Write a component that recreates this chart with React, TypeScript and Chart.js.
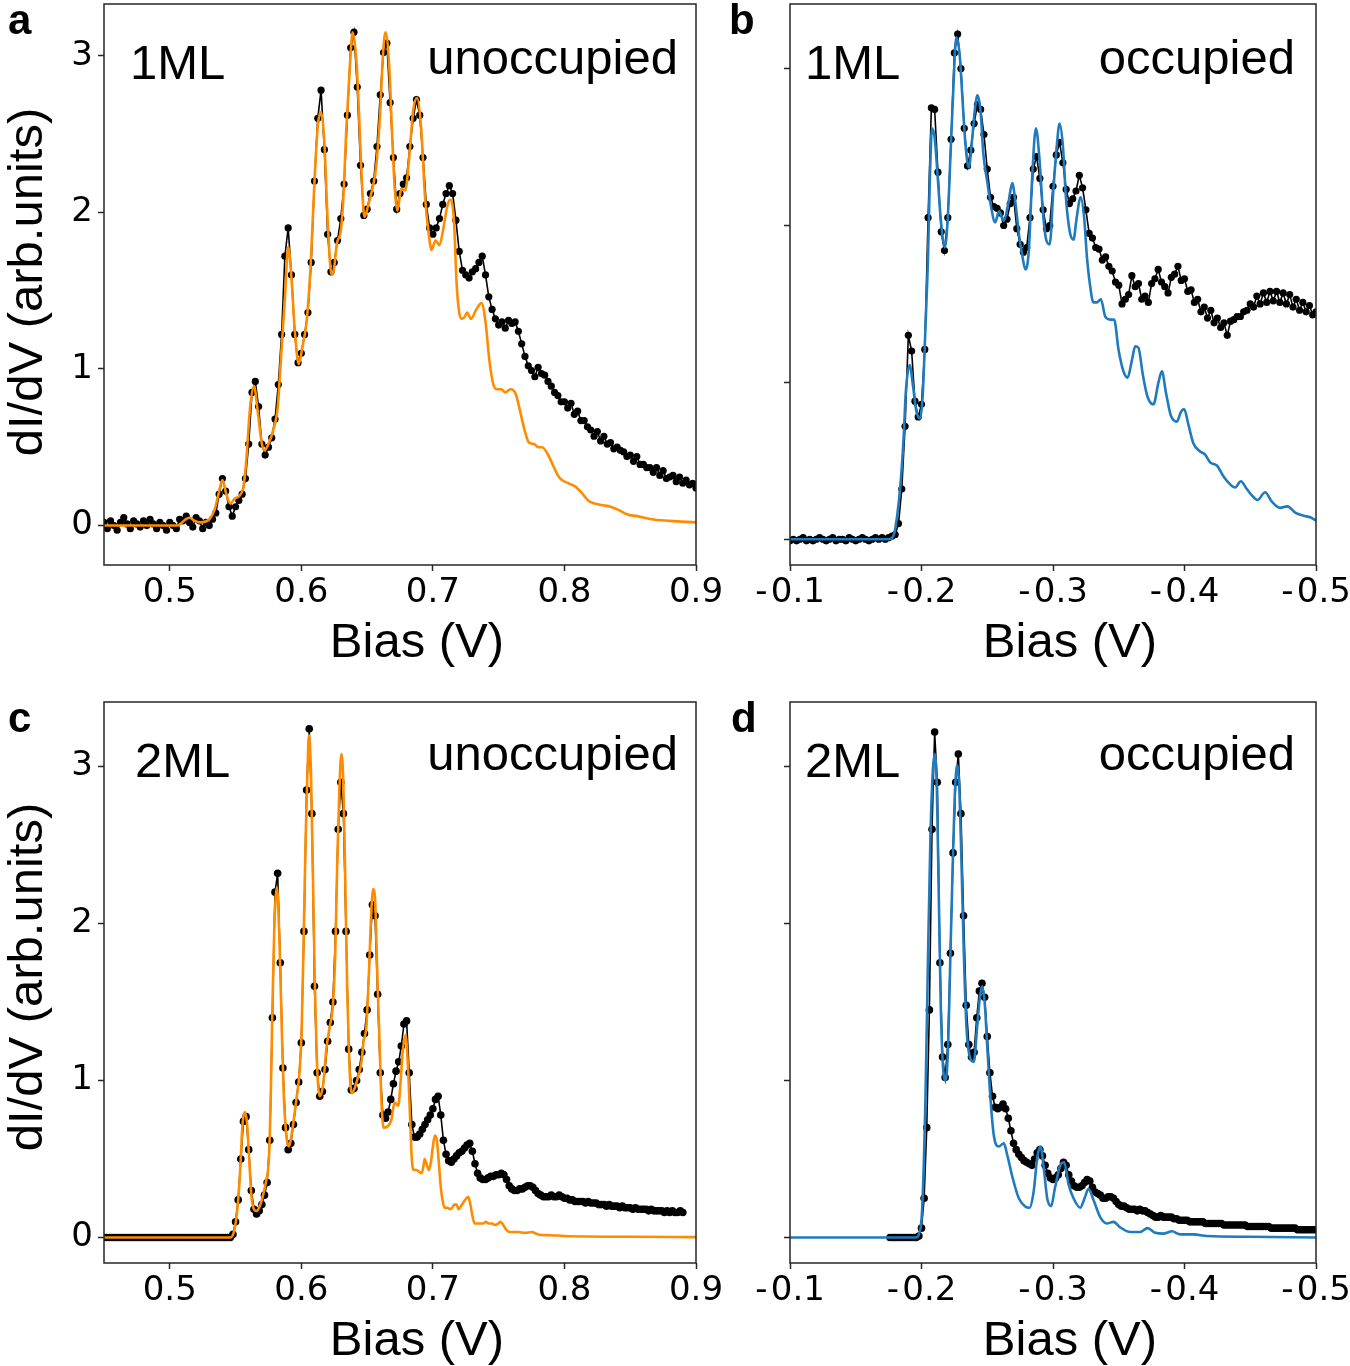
import React, { useEffect, useRef } from "react";
import { Chart, registerables } from "chart.js";

Chart.register(...registerables);

// ---------------- Tick values ----------------
const X_TICKS_UNOCC = [0.5, 0.6, 0.7, 0.8, 0.9];
const X_TICKS_OCC = [-0.1, -0.2, -0.3, -0.4, -0.5];
const Y_TICKS = [0, 1, 2, 3];

// ---------------- Panel a: 1ML unoccupied ----------------
const A_EXP_START = 0.45;
const A_EXP_STEP = 0.0025;
const A_EXP_Y = [
  0.02, -0.02, 0.03, 0.0, -0.03, 0.02, 0.05, 0.01, -0.02, 0.03, // 0.450
  0.01, -0.01, 0.03, 0.0, 0.04, 0.01, -0.02, 0.02, 0.0, -0.03, // 0.475
  0.02, 0.0, -0.02, 0.04, 0.03, 0.06, 0.02, -0.01, 0.05, 0.03, // 0.500
  -0.02, 0.02, 0.0, 0.04, 0.08, 0.2, 0.3, 0.22, 0.12, 0.06, // 0.525
  0.12, 0.16, 0.2, 0.3, 0.52, 0.85, 0.92, 0.76, 0.52, 0.45, // 0.550
  0.5, 0.56, 0.68, 0.9, 1.22, 1.72, 1.9, 1.6, 1.22, 1.04, // 0.575
  1.1, 1.22, 1.36, 1.68, 2.2, 2.6, 2.78, 2.4, 1.86, 1.62, // 0.600
  1.68, 1.82, 1.96, 2.18, 2.62, 3.05, 3.15, 2.8, 2.3, 1.98, // 0.625
  2.02, 2.12, 2.2, 2.42, 2.75, 3.02, 3.08, 2.7, 2.35, 2.02, // 0.650
  2.12, 2.18, 2.22, 2.42, 2.6, 2.72, 2.62, 2.35, 2.05, 1.9, // 0.675
  1.86, 1.9, 1.96, 2.05, 2.12, 2.17, 2.12, 1.95, 1.75, 1.63, // 0.700
  1.6, 1.58, 1.62, 1.64, 1.68, 1.72, 1.6, 1.46, 1.38, 1.32, // 0.725
  1.28, 1.3, 1.26, 1.31, 1.29, 1.3, 1.24, 1.16, 1.08, 1.02, // 0.750
  0.99, 0.95, 1.01, 0.97, 0.96, 0.92, 0.89, 0.85, 0.83, 0.79, // 0.775
  0.79, 0.75, 0.78, 0.71, 0.73, 0.67, 0.67, 0.63, 0.61, 0.57, // 0.800
  0.6, 0.54, 0.57, 0.52, 0.53, 0.49, 0.5, 0.48, 0.47, 0.44, // 0.825
  0.45, 0.41, 0.44, 0.39, 0.39, 0.37, 0.37, 0.34, 0.37, 0.32, // 0.850
  0.35, 0.3, 0.31, 0.32, 0.28, 0.31, 0.27, 0.29, 0.26, 0.27, // 0.875
  0.24, // 0.900
];
const A_THEORY: [number, number][] = [
  [0.45, 0], [0.5, 0], [0.506, 0], [0.512, 0.04], [0.515, 0.05], [0.519, 0.03], [0.523, 0.02], [0.53, 0.04],
  [0.534, 0.1], [0.537, 0.2], [0.54, 0.29], [0.543, 0.2], [0.546, 0.14], [0.549, 0.17], [0.553, 0.19],
  [0.556, 0.25], [0.558, 0.4], [0.561, 0.75], [0.564, 0.89], [0.567, 0.72], [0.57, 0.52], [0.572, 0.48],
  [0.575, 0.52], [0.579, 0.62], [0.582, 0.75], [0.584, 1.0], [0.5875, 1.45], [0.59, 1.78], [0.5925, 1.58],
  [0.595, 1.25], [0.598, 1.03], [0.601, 1.15], [0.604, 1.3], [0.607, 1.65], [0.61, 2.2], [0.6125, 2.55],
  [0.615, 2.64], [0.6175, 2.45], [0.62, 1.95], [0.623, 1.6], [0.625, 1.65], [0.627, 1.8], [0.63, 1.88],
  [0.632, 2.1], [0.634, 2.5], [0.637, 2.95], [0.639, 3.15], [0.642, 2.95], [0.644, 2.6], [0.646, 2.2],
  [0.648, 1.97], [0.651, 2.05], [0.654, 2.15], [0.657, 2.3], [0.66, 2.65], [0.662, 3.0], [0.664, 3.15],
  [0.667, 2.9], [0.669, 2.5], [0.671, 2.15], [0.673, 2.01], [0.676, 2.15], [0.679, 2.14], [0.682, 2.35],
  [0.685, 2.65], [0.688, 2.73], [0.691, 2.55], [0.694, 2.1], [0.697, 1.85], [0.699, 1.76], [0.702, 1.82],
  [0.705, 1.79], [0.708, 1.9], [0.711, 2.04], [0.713, 2.08], [0.716, 1.95], [0.718, 1.55], [0.72, 1.36],
  [0.722, 1.32], [0.724, 1.33], [0.726, 1.36], [0.729, 1.32], [0.733, 1.38], [0.737, 1.42], [0.74, 1.3],
  [0.743, 1.05], [0.746, 0.9], [0.749, 0.87], [0.752, 0.87], [0.755, 0.85], [0.759, 0.87], [0.763, 0.84],
  [0.766, 0.74], [0.77, 0.6], [0.773, 0.53], [0.777, 0.52], [0.78, 0.5], [0.783, 0.5], [0.787, 0.46],
  [0.791, 0.39], [0.795, 0.32], [0.798, 0.29], [0.803, 0.27], [0.808, 0.25], [0.813, 0.21], [0.818, 0.16],
  [0.823, 0.14], [0.829, 0.13], [0.835, 0.12], [0.841, 0.1], [0.848, 0.07], [0.855, 0.06], [0.866, 0.04],
  [0.88, 0.03], [0.9, 0.02],
];

// ---------------- Panel b: 1ML occupied ----------------
const B_EXP_START = -0.1;
const B_EXP_STEP = -0.0025;
const B_EXP_Y = [
  -0.01, 0.0, -0.01, 0.0, 0.01, -0.01, 0.0, -0.01, 0.0, 0.01, // -0.100
  0.0, -0.01, 0.0, 0.01, -0.01, 0.0, 0.0, -0.01, 0.01, 0.0, // -0.125
  -0.01, 0.0, 0.01, 0.0, -0.01, 0.0, 0.01, 0.0, 0.01, 0.0, // -0.150
  0.01, 0.02, 0.03, 0.1, 0.32, 0.72, 1.3, 1.2, 0.88, 0.78, // -0.175
  0.86, 1.21, 2.05, 2.75, 2.74, 2.34, 1.96, 1.84, 2.05, 2.55, // -0.200
  3.1, 3.22, 3.0, 2.62, 2.38, 2.48, 2.65, 2.77, 2.74, 2.58, // -0.225
  2.36, 2.18, 2.12, 2.11, 2.08, 2.0, 2.04, 2.14, 2.18, 1.98, // -0.250
  1.88, 1.83, 1.86, 2.05, 2.36, 2.44, 2.3, 2.1, 1.98, 2.0, // -0.275
  2.25, 2.45, 2.53, 2.4, 2.23, 2.14, 2.17, 2.22, 2.32, 2.24, // -0.300
  2.1, 1.95, 1.92, 1.86, 1.85, 1.78, 1.8, 1.74, 1.71, 1.64, // -0.325
  1.62, 1.5, 1.53, 1.56, 1.68, 1.61, 1.63, 1.53, 1.55, 1.51, // -0.350
  1.63, 1.66, 1.72, 1.64, 1.61, 1.57, 1.67, 1.69, 1.74, 1.65, // -0.375
  1.66, 1.58, 1.59, 1.51, 1.53, 1.45, 1.48, 1.41, 1.46, 1.38, // -0.400
  1.41, 1.35, 1.38, 1.3, 1.39, 1.4, 1.42, 1.42, 1.45, 1.46, // -0.425
  1.5, 1.48, 1.55, 1.5, 1.57, 1.51, 1.58, 1.52, 1.58, 1.51, // -0.450
  1.57, 1.5, 1.56, 1.48, 1.53, 1.46, 1.51, 1.45, 1.49, 1.43, // -0.475
  1.45, // -0.500
];
const B_THEORY: [number, number][] = [
  [-0.1, 0], [-0.175, 0], [-0.179, 0.03], [-0.1815, 0.15], [-0.184, 0.35], [-0.1865, 0.66], [-0.188, 0.93],
  [-0.191, 1.11], [-0.1935, 0.98], [-0.196, 0.82], [-0.199, 0.77], [-0.201, 0.93], [-0.203, 1.35],
  [-0.205, 1.81], [-0.2063, 2.28], [-0.208, 2.62], [-0.21, 2.56], [-0.212, 2.35], [-0.2137, 2.14],
  [-0.2157, 1.95], [-0.2177, 1.86], [-0.22, 2.05], [-0.222, 2.44], [-0.224, 2.83], [-0.2264, 3.2],
  [-0.229, 3.09], [-0.231, 2.83], [-0.2335, 2.51], [-0.236, 2.37], [-0.2385, 2.55], [-0.2406, 2.74],
  [-0.2426, 2.83], [-0.245, 2.72], [-0.247, 2.46], [-0.25, 2.28], [-0.2525, 2.14], [-0.256, 2.02],
  [-0.259, 2.09], [-0.2626, 2.03], [-0.266, 2.14], [-0.269, 2.27], [-0.2715, 2.14], [-0.274, 1.95],
  [-0.2766, 1.81], [-0.279, 1.72], [-0.2816, 1.84], [-0.284, 2.28], [-0.287, 2.62], [-0.29, 2.39],
  [-0.2923, 2.09], [-0.2948, 1.91], [-0.2975, 1.88], [-0.3003, 2.23], [-0.3029, 2.51], [-0.305, 2.65],
  [-0.3075, 2.51], [-0.31, 2.16], [-0.313, 1.95], [-0.3156, 1.91], [-0.318, 2.05], [-0.321, 2.18],
  [-0.3237, 2.05], [-0.3257, 1.81], [-0.328, 1.63], [-0.3307, 1.51], [-0.3333, 1.51], [-0.3364, 1.53],
  [-0.3397, 1.42], [-0.3435, 1.4], [-0.3465, 1.4], [-0.3498, 1.21], [-0.3536, 1.07], [-0.3567, 1.03],
  [-0.36, 1.14], [-0.3625, 1.23], [-0.365, 1.22], [-0.3683, 1.05], [-0.3718, 0.91], [-0.3764, 0.86],
  [-0.3802, 1.0], [-0.3828, 1.07], [-0.386, 0.93], [-0.3896, 0.79], [-0.3942, 0.75], [-0.3972, 0.81],
  [-0.3997, 0.83], [-0.403, 0.73], [-0.4068, 0.61], [-0.4119, 0.56], [-0.4157, 0.54], [-0.4195, 0.49],
  [-0.4246, 0.47], [-0.4297, 0.4], [-0.4347, 0.35], [-0.4385, 0.33], [-0.4428, 0.37], [-0.4474, 0.32],
  [-0.4512, 0.28], [-0.4555, 0.25], [-0.4613, 0.3], [-0.4664, 0.24], [-0.4727, 0.2], [-0.4783, 0.21],
  [-0.4842, 0.17], [-0.4905, 0.15], [-0.4956, 0.14], [-0.5, 0.12],
];

// ---------------- Panel c: 2ML unoccupied ----------------
const C_EXP_START = 0.45;
const C_EXP_STEP = 0.002;
const C_EXP_Y = [
  0, 0, 0, 0, 0, 0, 0, 0, 0, 0, // 0.450
  0, 0, 0, 0, 0, 0, 0, 0, 0, 0, // 0.470
  0, 0, 0, 0, 0, 0, 0, 0, 0, 0, // 0.490
  0, 0, 0, 0, 0, 0, 0, 0, 0, 0, // 0.510
  0, 0, 0, 0, 0, 0, 0, 0, 0, 0.02, // 0.530
  0.1, 0.24, 0.5, 0.74, 0.77, 0.56, 0.3, 0.18, 0.15, 0.17, // 0.550
  0.21, 0.27, 0.35, 0.62, 1.4, 2.2, 2.32, 1.75, 1.08, 0.7, // 0.570
  0.56, 0.6, 0.72, 0.86, 0.99, 1.24, 1.95, 2.85, 3.24, 2.7, // 0.590
  1.6, 1.05, 0.9, 0.93, 1.07, 1.25, 1.37, 1.5, 1.95, 2.6, // 0.610
  2.9, 2.7, 1.95, 1.2, 0.94, 0.95, 1.0, 1.07, 1.18, 1.3, // 0.630
  1.45, 1.8, 2.12, 2.05, 1.55, 1.05, 0.78, 0.76, 0.8, 0.88, // 0.650
  0.98, 1.06, 1.12, 1.22, 1.36, 1.38, 1.05, 0.72, 0.64, 0.64, // 0.670
  0.66, 0.69, 0.72, 0.75, 0.78, 0.82, 0.88, 0.9, 0.78, 0.62, // 0.690
  0.53, 0.49, 0.48, 0.5, 0.52, 0.54, 0.55, 0.57, 0.59, 0.6, // 0.710
  0.55, 0.47, 0.41, 0.38, 0.37, 0.37, 0.38, 0.39, 0.39, 0.4, // 0.730
  0.4, 0.41, 0.4, 0.37, 0.33, 0.31, 0.3, 0.3, 0.31, 0.31, // 0.750
  0.32, 0.33, 0.33, 0.32, 0.3, 0.28, 0.27, 0.26, 0.26, 0.26, // 0.770
  0.27, 0.26, 0.26, 0.27, 0.26, 0.25, 0.25, 0.24, 0.24, 0.23, // 0.790
  0.23, 0.23, 0.23, 0.22, 0.23, 0.22, 0.22, 0.22, 0.21, 0.21, // 0.810
  0.21, 0.2, 0.21, 0.2, 0.2, 0.2, 0.19, 0.2, 0.19, 0.19, // 0.830
  0.19, 0.18, 0.19, 0.18, 0.18, 0.18, 0.18, 0.17, 0.18, 0.17, // 0.850
  0.17, 0.17, 0.17, 0.16, 0.17, 0.16, 0.17, 0.16, 0.16, 0.17, // 0.870
  0.16, // 0.890
];
const C_THEORY: [number, number][] = [
  [0.45, 0], [0.546, 0], [0.5494, 0.06], [0.5519, 0.23], [0.5537, 0.46], [0.5552, 0.71], [0.557, 0.8],
  [0.5587, 0.73], [0.5603, 0.51], [0.562, 0.27], [0.564, 0.18], [0.5658, 0.17], [0.5684, 0.2],
  [0.5709, 0.27], [0.5734, 0.37], [0.5754, 0.51], [0.5767, 0.88], [0.578, 1.46], [0.5795, 1.99],
  [0.5815, 2.23], [0.5835, 1.85], [0.5851, 1.34], [0.5866, 0.92], [0.5886, 0.65], [0.5904, 0.58],
  [0.5932, 0.69], [0.5962, 0.88], [0.5987, 1.06], [0.6003, 1.34], [0.6018, 1.92], [0.6033, 2.55],
  [0.6048, 3.01], [0.6058, 3.2], [0.6073, 2.97], [0.6089, 2.27], [0.6104, 1.57], [0.6119, 1.11],
  [0.6139, 0.9], [0.6165, 0.97], [0.619, 1.2], [0.6215, 1.34], [0.624, 1.48], [0.6258, 1.81],
  [0.6273, 2.39], [0.6289, 2.85], [0.6304, 3.08], [0.6319, 2.9], [0.6334, 2.27], [0.6349, 1.57],
  [0.6365, 1.11], [0.6382, 0.92], [0.6405, 0.95], [0.643, 1.02], [0.6456, 1.11], [0.6473, 1.25],
  [0.6494, 1.34], [0.6514, 1.69], [0.6532, 2.08], [0.6547, 2.22], [0.6562, 2.13], [0.6577, 1.69],
  [0.6595, 1.23], [0.661, 0.85], [0.6625, 0.7], [0.6658, 0.71], [0.6684, 0.75], [0.6709, 0.86],
  [0.6737, 0.84], [0.6755, 1.0], [0.677, 1.18], [0.6792, 1.29], [0.681, 1.1], [0.6825, 0.8],
  [0.684, 0.5], [0.6856, 0.43], [0.6876, 0.43], [0.6894, 0.42], [0.6914, 0.41], [0.6927, 0.45],
  [0.6937, 0.5], [0.6955, 0.46], [0.697, 0.43], [0.6985, 0.48], [0.7, 0.58], [0.7015, 0.65],
  [0.703, 0.62], [0.7045, 0.48], [0.706, 0.32], [0.7075, 0.23], [0.709, 0.19], [0.711, 0.19],
  [0.713, 0.18], [0.7147, 0.19], [0.7163, 0.21], [0.718, 0.21], [0.7195, 0.18], [0.7213, 0.2],
  [0.7245, 0.24], [0.7268, 0.26], [0.7283, 0.22], [0.73, 0.14], [0.7318, 0.09], [0.735, 0.09],
  [0.738, 0.09], [0.7402, 0.1], [0.7425, 0.09], [0.745, 0.09], [0.7473, 0.08], [0.7498, 0.09],
  [0.7514, 0.1], [0.7535, 0.08], [0.7557, 0.05], [0.7585, 0.035], [0.765, 0.035], [0.77, 0.03],
  [0.775, 0.035], [0.78, 0.02], [0.79, 0.015], [0.8, 0.01], [0.85, 0.005], [0.9, 0.003],
];

// ---------------- Panel d: 2ML occupied ----------------
const D_EXP_START = -0.176;
const D_EXP_STEP = -0.002;
const D_EXP_Y = [
  0, 0, 0, 0, 0, 0, 0, 0, 0, 0, // -0.176
  0.0, 0.01, 0.06, 0.25, 0.7, 1.45, 2.6, 3.22, 2.9, 1.75, // -0.196
  1.15, 1.02, 1.23, 1.81, 2.45, 2.9, 3.08, 2.7, 2.05, 1.48, // -0.216
  1.23, 1.15, 1.18, 1.4, 1.57, 1.62, 1.53, 1.28, 1.05, 0.9, // -0.236
  0.83, 0.82, 0.83, 0.85, 0.82, 0.76, 0.68, 0.6, 0.56, 0.53, // -0.256
  0.51, 0.49, 0.48, 0.47, 0.46, 0.5, 0.54, 0.56, 0.52, 0.46, // -0.276
  0.41, 0.38, 0.37, 0.38, 0.4, 0.44, 0.48, 0.46, 0.4, 0.36, // -0.296
  0.33, 0.32, 0.32, 0.33, 0.35, 0.37, 0.36, 0.32, 0.29, 0.28, // -0.316
  0.27, 0.25, 0.25, 0.26, 0.26, 0.25, 0.23, 0.21, 0.2, 0.2, // -0.336
  0.19, 0.18, 0.18, 0.18, 0.17, 0.18, 0.17, 0.17, 0.16, 0.15, // -0.356
  0.14, 0.13, 0.13, 0.14, 0.13, 0.13, 0.13, 0.13, 0.12, 0.12, // -0.376
  0.11, 0.11, 0.11, 0.11, 0.1, 0.1, 0.1, 0.1, 0.1, 0.1, // -0.396
  0.09, 0.09, 0.09, 0.09, 0.09, 0.09, 0.09, 0.08, 0.08, 0.08, // -0.416
  0.08, 0.08, 0.08, 0.08, 0.08, 0.08, 0.07, 0.07, 0.07, 0.07, // -0.436
  0.07, 0.07, 0.07, 0.07, 0.07, 0.06, 0.06, 0.06, 0.06, 0.06, // -0.456
  0.06, 0.06, 0.06, 0.06, 0.06, 0.05, 0.05, 0.05, 0.05, 0.05, // -0.476
  0.05, 0.05, 0.05, // -0.496
];
const D_THEORY: [number, number][] = [
  [-0.1, 0], [-0.196, 0], [-0.198, 0.02], [-0.2005, 0.18], [-0.203, 0.88], [-0.205, 1.81], [-0.2068, 2.55],
  [-0.2086, 2.97], [-0.2101, 3.08], [-0.2117, 2.85], [-0.2132, 2.15], [-0.2147, 1.46], [-0.2162, 1.11],
  [-0.2183, 1.0], [-0.2203, 1.23], [-0.222, 1.81], [-0.2238, 2.39], [-0.2253, 2.81], [-0.2271, 3.01],
  [-0.2289, 2.83], [-0.2304, 2.39], [-0.2322, 1.81], [-0.2342, 1.34], [-0.2365, 1.16], [-0.2398, 1.12],
  [-0.2423, 1.34], [-0.2444, 1.53], [-0.2461, 1.6], [-0.2482, 1.48], [-0.2499, 1.23], [-0.2525, 0.88],
  [-0.255, 0.65], [-0.2588, 0.58], [-0.2626, 0.6], [-0.2651, 0.53], [-0.269, 0.39], [-0.274, 0.25],
  [-0.2786, 0.2], [-0.2821, 0.19], [-0.2854, 0.3], [-0.288, 0.51], [-0.2905, 0.58], [-0.293, 0.44],
  [-0.2956, 0.25], [-0.2985, 0.2], [-0.3016, 0.32], [-0.3055, 0.46], [-0.3085, 0.48], [-0.3118, 0.34],
  [-0.3156, 0.25], [-0.3207, 0.19], [-0.324, 0.25], [-0.327, 0.31], [-0.3308, 0.24], [-0.3359, 0.13],
  [-0.341, 0.09], [-0.346, 0.1], [-0.3511, 0.065], [-0.3587, 0.035], [-0.3663, 0.035], [-0.3719, 0.06],
  [-0.3777, 0.03], [-0.384, 0.025], [-0.3904, 0.04], [-0.3967, 0.02], [-0.4068, 0.02], [-0.417, 0.01],
  [-0.45, 0.005], [-0.5, 0],
];

// ---------------- styling constants ----------------
const ORANGE = "#ff8c00";
const BLUE = "#1f7bbd";
const FRAME = "#262626";
const TICK_FONT = "'DejaVu Sans', sans-serif";
const TEXT_FONT = "'Liberation Sans', Arial, sans-serif";

type PanelSpec = {
  left: number;
  top: number;
  width: number;
  height: number;
  yAxisWidth: number;
  plotRight: number;
  xMin: number;
  xMax: number;
  reverse: boolean;
  yMin: number;
  yMax: number;
  xTicks: number[];
  occupied: boolean;
  theory: [number, number][];
  theoryColor: string;
  expStart: number;
  expStep: number;
  expY: number[];
  expLine: number;
  expRadius: number;
};

const framePlugin = {
  id: "frameBox",
  afterDatasetsDraw(chart: any) {
    const { ctx, chartArea: a } = chart;
    ctx.save();
    ctx.strokeStyle = FRAME;
    ctx.lineWidth = 1.5;
    ctx.strokeRect(a.left, a.top, a.right - a.left, a.bottom - a.top);
    ctx.restore();
  },
};

function Panel(p: PanelSpec) {
  const ref = useRef<HTMLCanvasElement | null>(null);
  useEffect(() => {
    if (!ref.current) return;
    const expData = p.expY.map((y, i) => ({
      x: +(p.expStart + i * p.expStep).toFixed(4),
      y,
    }));
    const thData = p.theory.map(([x, y]) => ({ x, y }));
    const chart = new Chart(ref.current, {
      type: "line",
      data: {
        datasets: [
          {
            data: thData,
            borderColor: p.theoryColor,
            borderWidth: 2.6,
            pointRadius: 0,
            pointHoverRadius: 0,
            cubicInterpolationMode: "monotone",
            fill: false,
          },
          {
            data: expData,
            borderColor: "#000",
            borderWidth: p.expLine,
            pointRadius: p.expRadius,
            pointHoverRadius: p.expRadius,
            pointBackgroundColor: "#000",
            pointBorderWidth: 0,
            tension: 0,
            fill: false,
          },
        ],
      },
      options: {
        responsive: false,
        animation: false,
        events: [],
        layout: {
          padding: { left: 0, top: 4, right: p.width - p.plotRight, bottom: 0 },
        },
        plugins: { legend: { display: false }, tooltip: { enabled: false } },
        scales: {
          x: {
            type: "linear",
            min: p.xMin,
            max: p.xMax,
            reverse: p.reverse,
            afterBuildTicks: (s: any) => {
              s.ticks = p.xTicks.map((v) => ({ value: v }));
            },
            afterFit: (s: any) => {
              s.height = 55;
              s.paddingLeft = 0;
              s.paddingRight = 0;
            },
            ticks: {
              autoSkip: false,
              maxRotation: 0,
              padding: 2,
              color: "#000",
              font: { family: TICK_FONT, size: 34, lineHeight: 1.2 },
              callback: (v: any) =>
                p.occupied ? "-\u200a" + Math.abs(Number(v)).toFixed(1) : Number(v).toFixed(1),
            },
            grid: {
              drawOnChartArea: false,
              drawTicks: true,
              tickLength: 6,
              tickWidth: 1.5,
              tickColor: FRAME,
            },
            border: { display: false },
          },
          y: {
            type: "linear",
            min: p.yMin,
            max: p.yMax,
            afterBuildTicks: (s: any) => {
              s.ticks = Y_TICKS.map((v) => ({ value: v }));
            },
            afterFit: (s: any) => {
              s.width = p.yAxisWidth;
              s.paddingTop = 0;
              s.paddingBottom = 0;
            },
            ticks: {
              autoSkip: false,
              padding: 5,
              color: "#000",
              font: { family: TICK_FONT, size: 34, lineHeight: 1.2 },
              callback: (v: any) => (p.occupied ? "" : String(v)),
            },
            grid: {
              drawOnChartArea: false,
              drawTicks: true,
              tickLength: 6,
              tickWidth: 1.5,
              tickColor: FRAME,
            },
            border: { display: false },
          },
        },
      },
      plugins: [framePlugin],
    } as any);
    return () => chart.destroy();
  }, []);
  return (
    <canvas
      ref={ref}
      width={p.width}
      height={p.height}
      style={{ position: "absolute", left: p.left, top: p.top, width: p.width, height: p.height }}
    />
  );
}

const txt = (extra: React.CSSProperties): React.CSSProperties => ({
  position: "absolute",
  fontFamily: TEXT_FONT,
  fontSize: 49,
  lineHeight: "49px",
  color: "#000",
  whiteSpace: "nowrap",
  ...extra,
});

const letter = (extra: React.CSSProperties): React.CSSProperties => ({
  position: "absolute",
  fontFamily: TEXT_FONT,
  fontWeight: "bold",
  fontSize: 42,
  lineHeight: "42px",
  color: "#000",
  ...extra,
});

export default function App() {
  const panels: PanelSpec[] = [
    {
      left: 0, top: 0, width: 740, height: 620, yAxisWidth: 104, plotRight: 696,
      xMin: 0.45, xMax: 0.9, reverse: false, yMin: -0.252, yMax: 3.33,
      xTicks: X_TICKS_UNOCC, occupied: false, theory: A_THEORY, theoryColor: ORANGE,
      expStart: A_EXP_START, expStep: A_EXP_STEP, expY: A_EXP_Y, expLine: 1.6, expRadius: 3.6,
    },
    {
      left: 740, top: 0, width: 610, height: 620, yAxisWidth: 50, plotRight: 576,
      xMin: -0.5, xMax: -0.1, reverse: true, yMin: -0.164, yMax: 3.412,
      xTicks: X_TICKS_OCC, occupied: true, theory: B_THEORY, theoryColor: BLUE,
      expStart: B_EXP_START, expStep: B_EXP_STEP, expY: B_EXP_Y, expLine: 1.6, expRadius: 3.6,
    },
    {
      left: 0, top: 698, width: 740, height: 620, yAxisWidth: 104, plotRight: 696,
      xMin: 0.45, xMax: 0.9, reverse: false, yMin: -0.162, yMax: 3.411,
      xTicks: X_TICKS_UNOCC, occupied: false, theory: C_THEORY, theoryColor: ORANGE,
      expStart: C_EXP_START, expStep: C_EXP_STEP, expY: C_EXP_Y, expLine: 1.6, expRadius: 3.8,
    },
    {
      left: 740, top: 698, width: 610, height: 620, yAxisWidth: 50, plotRight: 576,
      xMin: -0.5, xMax: -0.1, reverse: true, yMin: -0.162, yMax: 3.411,
      xTicks: X_TICKS_OCC, occupied: true, theory: D_THEORY, theoryColor: BLUE,
      expStart: D_EXP_START, expStep: D_EXP_STEP, expY: D_EXP_Y, expLine: 1.6, expRadius: 3.8,
    },
  ];

  return (
    <div
      style={{
        position: "absolute",
        left: 0,
        top: 0,
        width: 1350,
        height: 1366,
        background: "#fff",
        overflow: "hidden",
      }}
    >
      {panels.map((p, i) => (
        <Panel key={i} {...p} />
      ))}

      {/* panel letters */}
      <div style={letter({ left: 8, top: -1 })}>a</div>
      <div style={letter({ left: 729, top: -1 })}>b</div>
      <div style={letter({ left: 8, top: 697 })}>c</div>
      <div style={letter({ left: 731, top: 697 })}>d</div>

      {/* in-plot annotations */}
      <div style={txt({ left: 130, top: 38 })}>1ML</div>
      <div style={txt({ right: 672, top: 33 })}>unoccupied</div>
      <div style={txt({ left: 805, top: 38 })}>1ML</div>
      <div style={txt({ right: 55, top: 33 })}>occupied</div>
      <div style={txt({ left: 135, top: 736 })}>2ML</div>
      <div style={txt({ right: 672, top: 729 })}>unoccupied</div>
      <div style={txt({ left: 805, top: 736 })}>2ML</div>
      <div style={txt({ right: 55, top: 729 })}>occupied</div>

      {/* x axis titles */}
      <div style={txt({ left: 417, top: 616, transform: "translateX(-50%)" })}>Bias (V)</div>
      <div style={txt({ left: 1070, top: 616, transform: "translateX(-50%)" })}>Bias (V)</div>
      <div style={txt({ left: 417, top: 1314, transform: "translateX(-50%)" })}>Bias (V)</div>
      <div style={txt({ left: 1070, top: 1314, transform: "translateX(-50%)" })}>Bias (V)</div>

      {/* y axis titles */}
      <div style={txt({ left: 25, top: 282, transform: "translate(-50%, -50%) rotate(-90deg)" })}>
        dI/dV (arb.units)
      </div>
      <div style={txt({ left: 25, top: 977, transform: "translate(-50%, -50%) rotate(-90deg)" })}>
        dI/dV (arb.units)
      </div>
    </div>
  );
}
